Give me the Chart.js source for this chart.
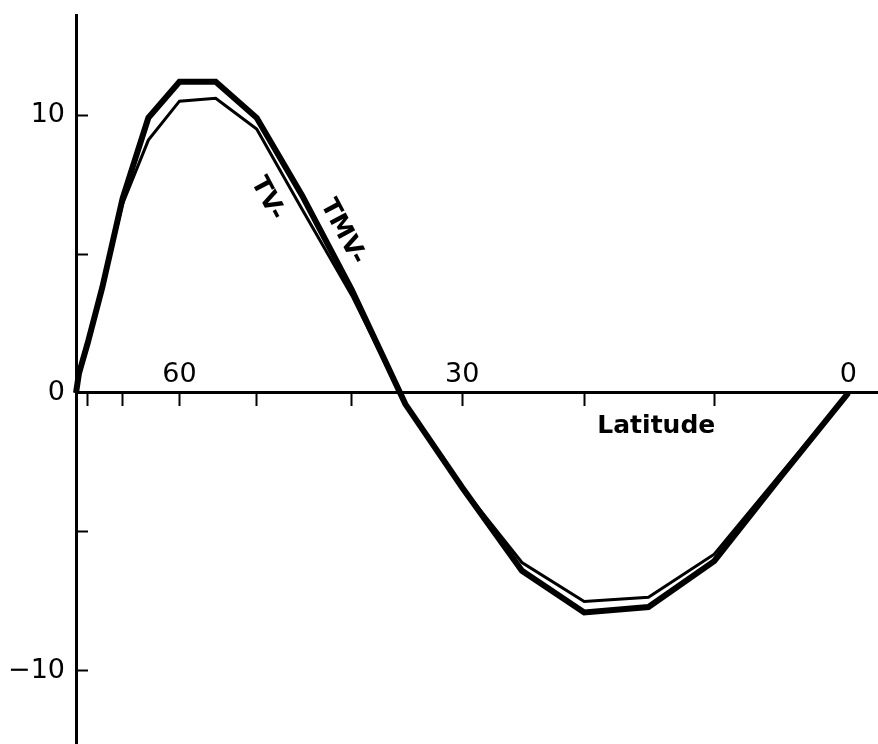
<!DOCTYPE html>
<html>
<head>
<meta charset="utf-8">
<title>TV and TMV against latitude</title>
<script src="https://cdn.jsdelivr.net/npm/chart.js@4.4.1/dist/chart.umd.min.js"></script>
<style>
  html, body { margin: 0; padding: 0; background: #fff; }
  canvas { display: block; }
</style>
</head>
<body>
<canvas id="chart" width="878" height="744"></canvas>
<script>
// latitude runs from the pole (left) to the equator (right), axis spaced by sin(latitude)
const latitudes = [90, 85, 80, 75, 70, 65, 60, 55, 50, 45, 40, 35, 30, 25, 20, 15, 10, 5, 0];
const tmvValues = [0, 0.7, 1.8, 3.8, 7.0, 9.9, 11.2, 11.2, 9.9, 7.1, 3.7, -0.4, -3.4, -6.4, -7.9, -7.7, -6.05, -3.0, 0];
const tvValues  = [0, 0.7, 1.8, 3.8, 6.8, 9.1, 10.5, 10.6, 9.5, 6.6, 3.5, -0.4, -3.4, -6.1, -7.5, -7.35, -5.8, -2.9, 0];
const xTickLats = [80, 70, 60, 50, 40, 30, 20, 10, 0];
const xLabelLats = [60, 30, 0];
const yTicks = [-10, -5, 0, 5, 10];
const yLabels = [-10, 0, 10];

const rad = d => d * Math.PI / 180;
const toPoints = vals => latitudes.map((lat, i) => ({ x: Math.sin(rad(lat)), y: vals[i] }));

const tickFont = { family: 'DejaVu Sans', size: 27 };

const textPlugin = {
    id: 'curveText',
    afterDatasetsDraw(chart) {
        const { ctx, scales: { x, y } } = chart;
        const px = lat => x.getPixelForValue(Math.sin(rad(lat)));
        ctx.save();
        ctx.fillStyle = '#000';
        ctx.textAlign = 'center';
        ctx.textBaseline = 'middle';
        ctx.font = 'bold 25px "DejaVu Sans"';
        ctx.fillText('Latitude', px(14.4), y.getPixelForValue(-1.2));
        ctx.font = 'bold 25px "DejaVu Sans"';
        [['TV-', 48.8, 7.0], ['TMV-', 40.9, 5.8]].forEach(([t, lat, v]) => {
            ctx.save();
            ctx.translate(px(lat), y.getPixelForValue(v));
            ctx.rotate(rad(62));
            ctx.fillText(t, 0, 0);
            ctx.restore();
        });
        ctx.restore();
    }
};

new Chart(document.getElementById('chart'), {
    type: 'line',
    data: {
        datasets: [{
            label: 'TMV',
            data: toPoints(tmvValues),
            borderColor: '#000',
            borderWidth: 6,
            pointRadius: 0,
            tension: 0,
            clip: false
        }, {
            label: 'TV',
            data: toPoints(tvValues),
            borderColor: '#000',
            borderWidth: 3,
            pointRadius: 0,
            tension: 0,
            clip: false
        }]
    },
    options: {
        responsive: false,
        animation: false,
        layout: { padding: { top: 15, right: 0, bottom: 0, left: 0 } },
        plugins: {
            legend: { display: false },
            tooltip: { enabled: false }
        },
        scales: {
            x: {
                type: 'linear',
                reverse: true,
                min: Math.sin(rad(-2.2)),
                max: 1,
                position: { y: 0 },
                afterBuildTicks: s => { s.ticks = xTickLats.map(l => ({ value: Math.sin(rad(l)) })); },
                afterFit: s => { s.height = 0; s.paddingLeft = 0; s.paddingRight = 0; s.paddingTop = 0; s.paddingBottom = 0; },
                border: { display: true, color: '#000', width: 3 },
                grid: {
                    drawOnChartArea: false,
                    tickLength: 12,
                    tickWidth: 2,
                    tickColor: c => (c.tick && c.tick.value === 0) ? 'rgba(0,0,0,0)' : '#000'
                },
                ticks: {
                    autoSkip: false,
                    maxRotation: 0,
                    padding: -46,
                    color: '#000',
                    font: tickFont,
                    callback: v => {
                        const lat = Math.round(Math.asin(v) * 180 / Math.PI);
                        return xLabelLats.includes(lat) ? String(lat) : '';
                    }
                }
            },
            y: {
                min: -12.63,
                max: 13.6,
                afterBuildTicks: s => { s.ticks = yTicks.map(v => ({ value: v })); },
                afterFit: s => { s.width = 76; s.paddingTop = 0; s.paddingBottom = 0; s.paddingLeft = 0; s.paddingRight = 0; },
                border: { display: true, color: '#000', width: 3 },
                grid: {
                    drawOnChartArea: false,
                    tickLength: -12,
                    tickWidth: 2,
                    tickColor: '#000'
                },
                ticks: {
                    padding: 23,
                    color: '#000',
                    font: tickFont,
                    callback: v => yLabels.includes(v) ? (v < 0 ? '\u2212' + Math.abs(v) : String(v)) : ''
                }
            }
        }
    },
    plugins: [textPlugin]
});
</script>
</body>
</html>
